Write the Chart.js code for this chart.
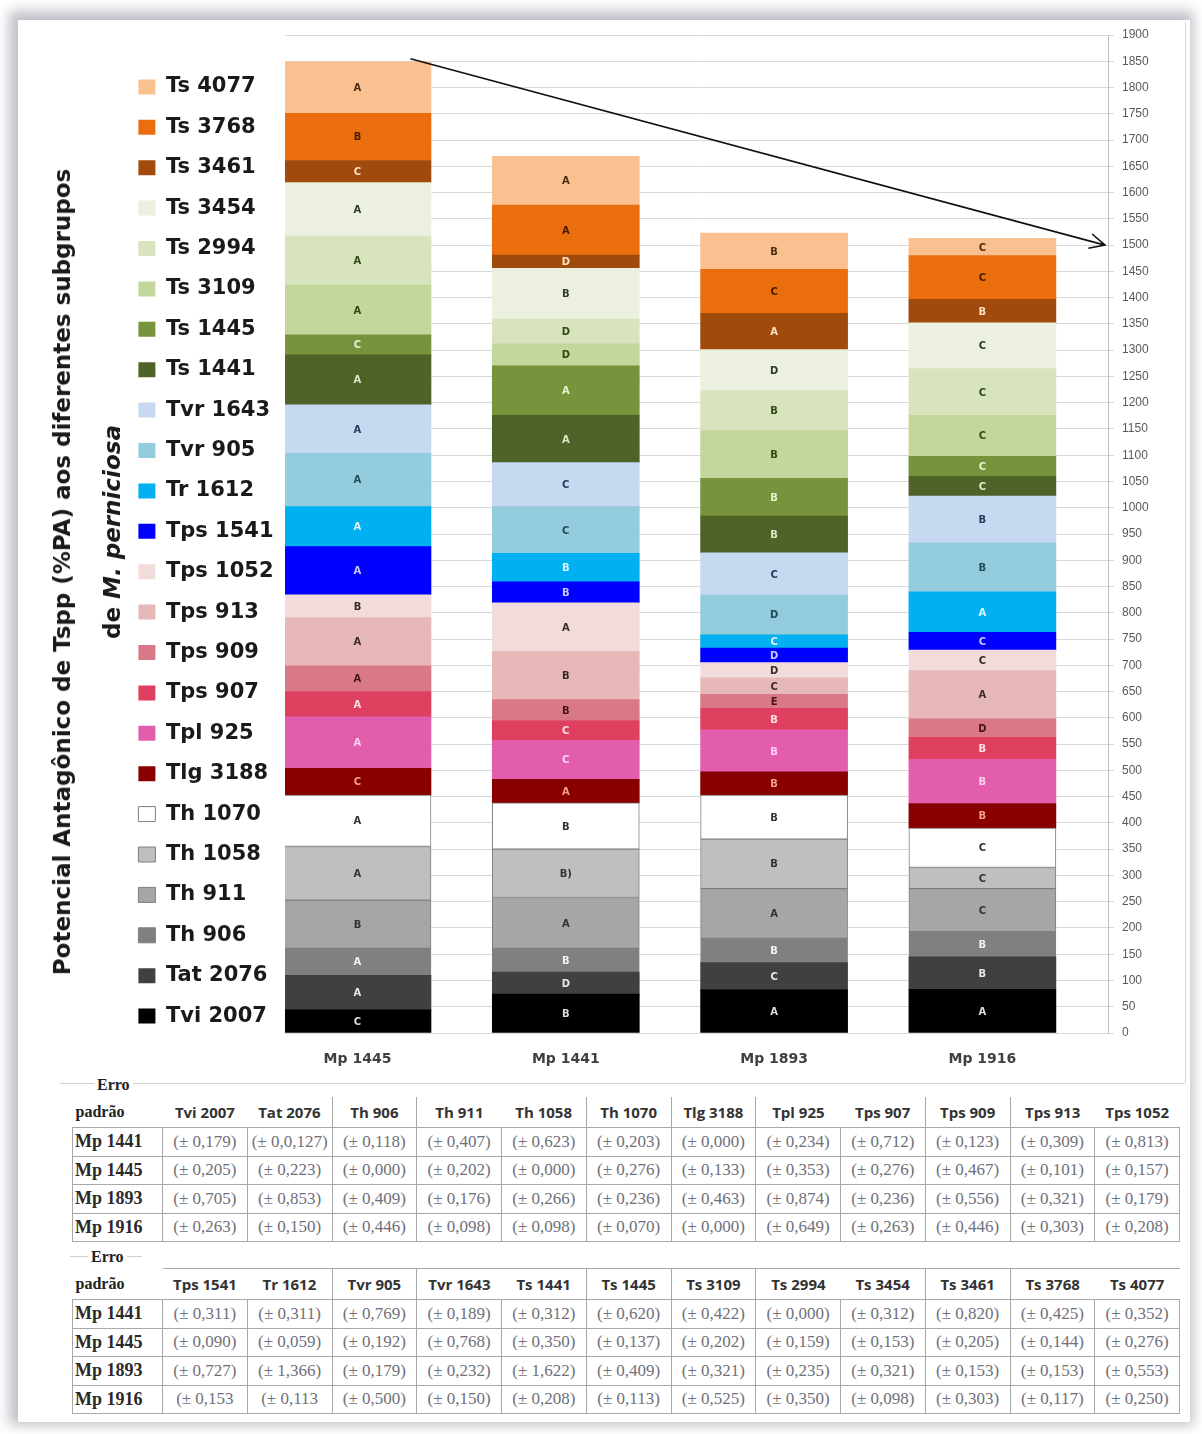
<!DOCTYPE html>
<html>
<head>
<meta charset="utf-8">
<script src="https://cdn.jsdelivr.net/npm/chart.js@4.4.1/dist/chart.umd.min.js"></script>
<style>
  html, body { margin: 0; padding: 0; background: #fff; }
  #page { position: relative; width: 1202px; height: 1434px; overflow: hidden; background: #fff; }
  #frame { position: absolute; left: 18px; top: 20px; width: 1172px; height: 1402px; background: #fff;
           box-shadow: -3px -3px 12px 6px rgba(85, 90, 105, 0.38); }
  #chartBox { position: absolute; left: 0; top: 0; width: 1202px; height: 1075px; }
  .ytitle { position: absolute; white-space: nowrap; transform: translate(-50%, -50%) rotate(-90deg);
            font-family: 'DejaVu Sans'; font-weight: bold; font-size: 23px; color: #1a1a1a; }
  .hline { position: absolute; height: 0; border-top: 1px solid #cfcfcf; }
  .vline { position: absolute; width: 0; border-left: 1px solid #d8d8d8; }
  .erro { position: absolute; background: #fff; padding: 0 3px; font-family: 'Liberation Serif'; font-weight: bold;
          font-size: 16px; color: #222; line-height: 16px; }
  table.err { position: absolute; left: 72px; width: 1108px; border-collapse: collapse; table-layout: fixed; }
  table.err td { padding: 0; text-align: center; white-space: nowrap; overflow: hidden; }
  table.err tr.head td { height: 30px; font-family: 'Open Sans'; font-weight: bold; font-size: 15px; color: #333; }
  table.err tr.head td.first { text-align: left; font-family: 'Liberation Serif'; font-size: 16px; color: #222; padding-left: 3px; }
  table.err tr.head td.sep { border-left: 1px solid #a8a8a8; }
  table.err.t2 tr.head td.col { border-top: 1px solid #a8a8a8; }
  table.err tr.row td { height: 27.5px; border: 1px solid #a8a8a8; font-family: 'Liberation Serif'; font-size: 17px; color: #70707a; }
  table.err tr.row td.first { font-weight: bold; font-size: 18px; color: #2a2a2a; text-align: left; padding-left: 2px; }
</style>
</head>
<body>
<div id="page">
  <div id="frame"></div>
  <div class="vline" style="left:1185px; top:22px; height:1061px;"></div>
  <div class="hline" style="left:60px; top:1083px; width:1125px;"></div>
  <div class="hline" style="left:70px; top:1256px; width:72px;"></div>

  <div id="chartBox"><canvas id="chart" width="1202" height="1075"></canvas></div>

  <div class="ytitle" style="left:62px; top:572px;">Potencial Antagônico de Tspp (%PA) aos diferentes subgrupos</div>
  <div class="ytitle" style="left:112px; top:532px;">de <i>M. perniciosa</i></div>

  <div class="erro" style="left:94px; top:1077px;">Erro</div>
  <table class="err t1" id="err1" style="top:1097px;"></table>
  <div class="erro" style="left:88px; top:1249px;">Erro</div>
  <table class="err t2" id="err2" style="top:1268px;"></table>
</div>

<script>
// isolates of M. perniciosa (x axis)
const categories = ['Mp 1445', 'Mp 1441', 'Mp 1893', 'Mp 1916'];

// Trichoderma isolates, stacked from the bottom of each bar to the top
const seriesNames = ['Tvi 2007', 'Tat 2076', 'Th 906', 'Th 911', 'Th 1058', 'Th 1070', 'Tlg 3188', 'Tpl 925',
  'Tps 907', 'Tps 909', 'Tps 913', 'Tps 1052', 'Tps 1541', 'Tr 1612', 'Tvr 905', 'Tvr 1643',
  'Ts 1441', 'Ts 1445', 'Ts 3109', 'Ts 2994', 'Ts 3454', 'Ts 3461', 'Ts 3768', 'Ts 4077'];

// %PA per isolate, same order as seriesNames
const mp1445 = [44, 66, 51, 92, 102, 98, 51, 98, 48, 49, 92, 43, 92, 76, 102, 92, 95, 38, 95, 93, 102, 42, 90, 98];
const mp1441 = [74, 42, 45, 97, 92, 88, 45, 74, 38, 40, 91, 93, 40, 54, 89, 84, 90, 94, 42, 47, 97, 25, 95, 93];
const mp1893 = [82, 52, 46, 95, 94, 84, 44, 80, 41, 27, 31, 29, 28, 25, 76, 80, 70, 72, 91, 76, 78, 69, 84, 69];
const mp1916 = [83, 62, 48, 82, 40, 75, 47, 84, 42, 35, 92, 39, 34, 77, 93, 89, 38, 38, 78, 89, 87, 45, 83, 33];

// significance letters written in each segment
const letters1445 = ['C', 'A', 'A', 'B', 'A', 'A', 'C', 'A', 'A', 'A', 'A', 'B', 'A', 'A', 'A', 'A', 'A', 'C', 'A', 'A', 'A', 'C', 'B', 'A'];
const letters1441 = ['B', 'D', 'B', 'A', 'B)', 'B', 'A', 'C', 'C', 'B', 'B', 'A', 'B', 'B', 'C', 'C', 'A', 'A', 'D', 'D', 'B', 'D', 'A', 'A'];
const letters1893 = ['A', 'C', 'B', 'A', 'B', 'B', 'B', 'B', 'B', 'E', 'C', 'D', 'D', 'C', 'D', 'C', 'B', 'B', 'B', 'B', 'D', 'A', 'C', 'B'];
const letters1916 = ['A', 'B', 'B', 'C', 'C', 'C', 'B', 'B', 'B', 'D', 'A', 'C', 'C', 'A', 'B', 'B', 'C', 'C', 'C', 'C', 'C', 'B', 'C', 'C'];

// right axis ticks and arrow target
const yMin = 0, yMax = 1900, yStep = 50;
const arrowTarget = 1500;

// standard error tables
const errRows = ['Mp 1441', 'Mp 1445', 'Mp 1893', 'Mp 1916'];
const errHead1 = ['Tvi 2007', 'Tat 2076', 'Th 906', 'Th 911', 'Th 1058', 'Th 1070', 'Tlg 3188', 'Tpl 925', 'Tps 907', 'Tps 909', 'Tps 913', 'Tps 1052'];
const errVals1 = [
  ['(± 0,179)', '(± 0,0,127)', '(± 0,118)', '(± 0,407)', '(± 0,623)', '(± 0,203)', '(± 0,000)', '(± 0,234)', '(± 0,712)', '(± 0,123)', '(± 0,309)', '(± 0,813)'],
  ['(± 0,205)', '(± 0,223)', '(± 0,000)', '(± 0,202)', '(± 0,000)', '(± 0,276)', '(± 0,133)', '(± 0,353)', '(± 0,276)', '(± 0,467)', '(± 0,101)', '(± 0,157)'],
  ['(± 0,705)', '(± 0,853)', '(± 0,409)', '(± 0,176)', '(± 0,266)', '(± 0,236)', '(± 0,463)', '(± 0,874)', '(± 0,236)', '(± 0,556)', '(± 0,321)', '(± 0,179)'],
  ['(± 0,263)', '(± 0,150)', '(± 0,446)', '(± 0,098)', '(± 0,098)', '(± 0,070)', '(± 0,000)', '(± 0,649)', '(± 0,263)', '(± 0,446)', '(± 0,303)', '(± 0,208)']
];
const errHead2 = ['Tps 1541', 'Tr 1612', 'Tvr 905', 'Tvr 1643', 'Ts 1441', 'Ts 1445', 'Ts 3109', 'Ts 2994', 'Ts 3454', 'Ts 3461', 'Ts 3768', 'Ts 4077'];
const errVals2 = [
  ['(± 0,311)', '(± 0,311)', '(± 0,769)', '(± 0,189)', '(± 0,312)', '(± 0,620)', '(± 0,422)', '(± 0,000)', '(± 0,312)', '(± 0,820)', '(± 0,425)', '(± 0,352)'],
  ['(± 0,090)', '(± 0,059)', '(± 0,192)', '(± 0,768)', '(± 0,350)', '(± 0,137)', '(± 0,202)', '(± 0,159)', '(± 0,153)', '(± 0,205)', '(± 0,144)', '(± 0,276)'],
  ['(± 0,727)', '(± 1,366)', '(± 0,179)', '(± 0,232)', '(± 1,622)', '(± 0,409)', '(± 0,321)', '(± 0,235)', '(± 0,321)', '(± 0,153)', '(± 0,153)', '(± 0,553)'],
  ['(± 0,153', '(± 0,113', '(± 0,500)', '(± 0,150)', '(± 0,208)', '(± 0,113)', '(± 0,525)', '(± 0,350)', '(± 0,098)', '(± 0,303)', '(± 0,117)', '(± 0,250)']
];

// styles
const fillColors = ['#000000', '#404040', '#808080', '#a6a6a6', '#bfbfbf', '#ffffff', '#880000', '#e25ead',
  '#e0405f', '#d97988', '#e6b9b8', '#f2dcdb', '#0000ff', '#00b0f0', '#93cddd', '#c6d9f1',
  '#4f6228', '#77933c', '#c3d69b', '#d7e4bd', '#ebf1de', '#a04a0c', '#ea6e0e', '#fac090'];
const letterColors = ['#dddddd', '#e8e8e8', '#f2f2f2', '#333333', '#333333', '#333333', '#f4a08c', '#ffd0f0',
  '#ffe0e6', '#4a1018', '#3a2a2a', '#3a2a2a', '#c8c8ff', '#e0f6ff', '#1f4a5a', '#2a3a5a',
  '#dfe8c8', '#e8f2d0', '#2f4a14', '#2f4a14', '#2f3a24', '#ffe2c4', '#4a1a00', '#4a2a10'];
const framed = ['Th 906', 'Th 911', 'Th 1058', 'Th 1070'];
const separators = [2, 3, 5, 6, 7, 9, 10];
const plotLeft = 285;   // gridlines start right of the legend

const barValues = [mp1445, mp1441, mp1893, mp1916];
const barLetters = [letters1445, letters1441, letters1893, letters1916];

const datasets = seriesNames.map((name, i) => ({
  label: name,
  data: barValues.map((vals, j) => ({ x: j, y: vals[i] })),
  letters: barLetters.map(l => l[i]),
  backgroundColor: fillColors[i],
  borderColor: framed.includes(name) ? '#7f7f7f' : fillColors[i],
  borderWidth: framed.includes(name) ? 1 : 0,
  borderSkipped: false,
  barThickness: 147
}));

const letterPlugin = {
  id: 'letters',
  afterDatasetsDraw(chart) {
    const ctx = chart.ctx;
    ctx.save();
    ctx.font = 'bold 10px "DejaVu Sans"';
    ctx.textAlign = 'center';
    ctx.textBaseline = 'middle';
    chart.data.datasets.forEach((ds, i) => {
      ctx.fillStyle = letterColors[i];
      chart.getDatasetMeta(i).data.forEach((bar, j) => {
        ctx.fillText(ds.letters[j], bar.x, (bar.y + bar.base) / 2 + 1);
      });
    });
    ctx.restore();
  }
};

const arrowPlugin = {
  id: 'arrow',
  afterDatasetsDraw(chart) {
    const { ctx, chartArea, scales } = chart;
    const top = chart.getDatasetMeta(chart.data.datasets.length - 1).data[0];
    const x0 = top.x + top.width * 0.36, y0 = top.y - 3;
    const x1 = chartArea.right - 3, y1 = scales.y.getPixelForValue(arrowTarget);
    const ang = Math.atan2(y1 - y0, x1 - x0);
    ctx.save();
    ctx.strokeStyle = '#111';
    ctx.lineWidth = 1.6;
    ctx.beginPath();
    ctx.moveTo(x0, y0);
    ctx.lineTo(x1, y1);
    ctx.moveTo(x1 - 17 * Math.cos(ang - 0.45), y1 - 17 * Math.sin(ang - 0.45));
    ctx.lineTo(x1, y1);
    ctx.lineTo(x1 - 17 * Math.cos(ang + 0.45), y1 - 17 * Math.sin(ang + 0.45));
    ctx.stroke();
    ctx.restore();
  }
};

new Chart(document.getElementById('chart'), {
  type: 'bar',
  data: { datasets: datasets },
  plugins: [letterPlugin, arrowPlugin],
  options: {
    responsive: false,
    animation: false,
    devicePixelRatio: 1,
    layout: { padding: { left: 119, top: 35, right: 34, bottom: 7 } },
    plugins: {
      tooltip: { enabled: false },
      legend: {
        position: 'left',
        align: 'center',
        reverse: true,
        labels: {
          boxWidth: 17,
          boxHeight: 15,
          padding: 19.4,
          color: '#1a1a1a',
          font: { family: 'DejaVu Sans', weight: 'bold', size: 21 }
        }
      }
    },
    scales: {
      x: {
        type: 'linear',
        stacked: true,
        offset: false,
        min: -0.348,
        max: 3.603,
        grid: { display: false, drawTicks: false },
        border: { display: false },
        ticks: {
          stepSize: 1,
          includeBounds: false,
          autoSkip: false,
          maxRotation: 0,
          padding: 18,
          color: '#404040',
          font: { family: 'DejaVu Sans', weight: 'bold', size: 14 },
          callback: v => categories[v] ?? ''
        },
        afterFit: s => { s.height = 35; }
      },
      y: {
        position: 'right',
        stacked: true,
        min: yMin,
        max: yMax,
        ticks: { stepSize: yStep, padding: 8, color: '#595959', font: { family: 'Liberation Sans', size: 12 },
                 callback: v => String(v) },
        grid: { color: '#d9d9d9', tickLength: 6 },
        border: { color: '#bfbfbf' },
        afterFit: s => { s.width = 60; }
      },
      yl: {
        position: 'left',
        grid: { display: false },
        border: { display: false },
        ticks: { display: false },
        afterFit: s => {
          const lg = s.chart.legend;
          s.width = Math.max(0, plotLeft - 119 - (lg ? lg.width : 0));
        }
      }
    }
  }
});

// error tables
function buildTable(id, head, vals) {
  const t = document.getElementById(id);
  let html = '<colgroup><col style="width:90px">' + head.map(() => '<col>').join('') + '</colgroup>';
  html += '<tr class="head"><td class="first">padrão</td>' +
    head.map((h, k) => `<td class="col${separators.includes(k) ? ' sep' : ''}">${h}</td>`).join('') + '</tr>';
  errRows.forEach((r, i) => {
    html += `<tr class="row"><td class="first">${r}</td>` + vals[i].map(v => `<td>${v}</td>`).join('') + '</tr>';
  });
  t.innerHTML = html;
}
buildTable('err1', errHead1, errVals1);
buildTable('err2', errHead2, errVals2);
</script>
</body>
</html>
